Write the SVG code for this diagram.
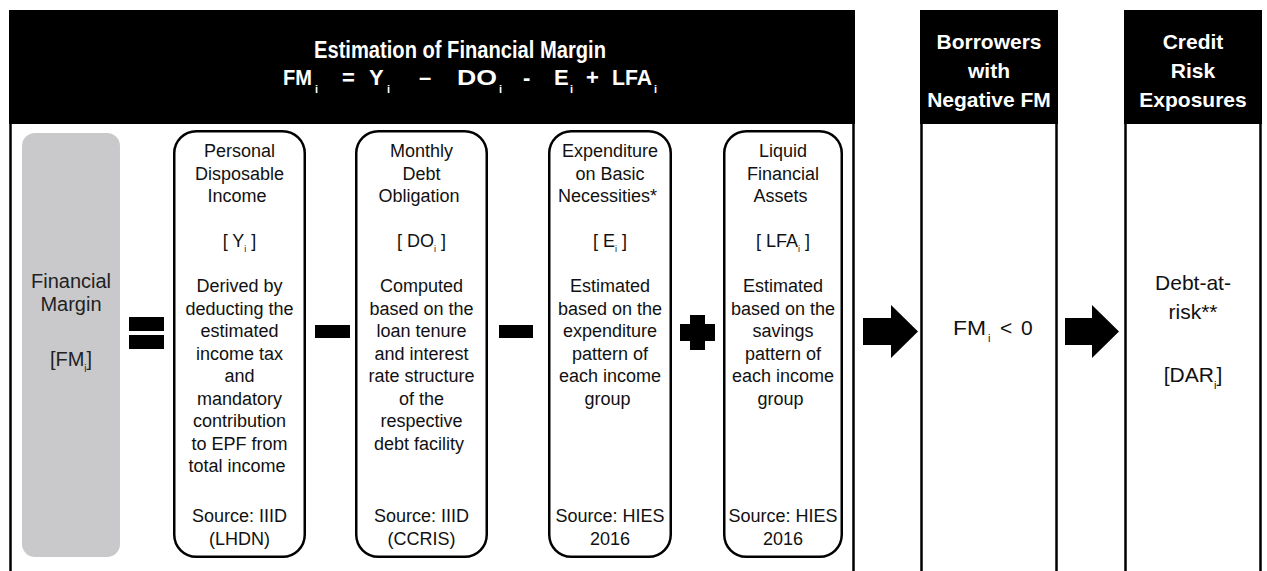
<svg xmlns="http://www.w3.org/2000/svg" width="1267" height="571" viewBox="0 0 1267 571">
<style>
.hdr{fill:#000}
.frame{stroke:#000;stroke-width:2.5;fill:none}
.box{fill:#fff;stroke:#000;stroke-width:2.5}
.gray{fill:#c9c9cb}
.t{font-family:"Liberation Sans",Arial,sans-serif;font-size:18px;fill:#111;text-anchor:middle}
.tg{font-family:"Liberation Sans",Arial,sans-serif;font-size:20px;fill:#222;text-anchor:middle}
.th{font-family:"Liberation Sans",Arial,sans-serif;font-weight:bold;fill:#fff}
.tb{font-family:"Liberation Sans",Arial,sans-serif;font-size:21px;fill:#111}
.op{fill:#000}
</style>
<rect width="1267" height="571" fill="#fff"/>

<g id="frame">
<rect class="hdr" x="9" y="10" width="846" height="114"/>
<line class="frame" x1="10.5" y1="120" x2="10.5" y2="571"/>
<line class="frame" x1="853.5" y1="120" x2="853.5" y2="571"/>
<text class="th" x="460" y="58" font-size="24" text-anchor="middle" textLength="292" lengthAdjust="spacingAndGlyphs">Estimation of Financial Margin</text>
<text class="th" y="85" font-size="22">
<tspan x="283" textLength="29" lengthAdjust="spacingAndGlyphs">FM</tspan><tspan x="315" y="93" font-size="11">i</tspan>
<tspan x="342" y="85">=</tspan>
<tspan x="369">Y</tspan><tspan x="387" y="93" font-size="11">i</tspan>
<tspan x="419" y="85">–</tspan>
<tspan x="457" textLength="40" lengthAdjust="spacingAndGlyphs">DO</tspan><tspan x="499" y="93" font-size="11">i</tspan>
<tspan x="523" y="85">-</tspan>
<tspan x="554">E</tspan><tspan x="570" y="93" font-size="11">i</tspan>
<tspan x="586" y="85">+</tspan>
<tspan x="612" textLength="40" lengthAdjust="spacingAndGlyphs">LFA</tspan><tspan x="654" y="93" font-size="11">i</tspan>
</text>
</g>

<g id="col-borrowers">
<rect class="hdr" x="920" y="10" width="138" height="114"/>
<line class="frame" x1="921.5" y1="120" x2="921.5" y2="571"/>
<line class="frame" x1="1056.5" y1="120" x2="1056.5" y2="571"/>
<text class="th" font-size="21" text-anchor="middle"><tspan x="989" y="49">Borrowers</tspan><tspan x="989" y="78">with</tspan><tspan x="989" y="107">Negative FM</tspan></text>
<text class="tb" y="335"><tspan x="953" textLength="33" lengthAdjust="spacingAndGlyphs">FM</tspan><tspan x="988" y="342" font-size="11">i</tspan><tspan x="1000" y="335">&lt;</tspan><tspan x="1021">0</tspan></text>
</g>

<g id="col-credit">
<rect class="hdr" x="1124" y="10" width="138" height="114"/>
<line class="frame" x1="1125.5" y1="120" x2="1125.5" y2="571"/>
<line class="frame" x1="1260.5" y1="120" x2="1260.5" y2="571"/>
<text class="th" font-size="21" text-anchor="middle"><tspan x="1193" y="49">Credit</tspan><tspan x="1193" y="78">Risk</tspan><tspan x="1193" y="107">Exposures</tspan></text>
<text class="tb" text-anchor="middle" font-size="22"><tspan x="1193" y="290">Debt-at-</tspan><tspan x="1193" y="319">risk**</tspan></text>
<text class="tb" text-anchor="middle" font-size="22" x="1193" y="382">[DAR<tspan font-size="11" dy="7">i</tspan><tspan dy="-7">]</tspan></text>
</g>

<g id="node-fm">
<rect class="gray" x="22" y="133" width="98" height="424" rx="13"/>
<text class="tg"><tspan x="71" y="288">Financial</tspan><tspan x="71" y="311">Margin</tspan></text>
<text class="tg" x="71" y="366">[FM<tspan font-size="10" dy="6">i</tspan><tspan dy="-6">]</tspan></text>
</g>

<g id="node-y">
<rect class="box" x="174.25" y="131.25" width="130.5" height="425.5" rx="22"/>
<text class="t">
<tspan x="239.5" y="157">Personal</tspan><tspan x="239.5" y="179.5">Disposable</tspan><tspan x="239.5" y="202">Income</tspan>
<tspan x="239.5" y="292">Derived by</tspan><tspan x="239.5" y="314.5">deducting the</tspan><tspan x="239.5" y="337">estimated</tspan><tspan x="239.5" y="359.5">income tax</tspan><tspan x="239.5" y="382">and</tspan><tspan x="239.5" y="404.5">mandatory</tspan><tspan x="239.5" y="427">contribution</tspan><tspan x="239.5" y="449.5">to EPF from</tspan><tspan x="239.5" y="472">total income</tspan>
<tspan x="239.5" y="522">Source: IIID</tspan><tspan x="239.5" y="545">(LHDN)</tspan>
</text>
<text class="t" x="239.5" y="247">[ Y<tspan font-size="9" dy="5">i</tspan><tspan dy="-5"> ]</tspan></text>
</g>

<g id="node-do">
<rect class="box" x="356.25" y="131.25" width="130.5" height="425.5" rx="22"/>
<text class="t">
<tspan x="421.5" y="157">Monthly</tspan><tspan x="421.5" y="179.5">Debt</tspan><tspan x="421.5" y="202">Obligation</tspan>
<tspan x="421.5" y="292">Computed</tspan><tspan x="421.5" y="314.5">based on the</tspan><tspan x="421.5" y="337">loan tenure</tspan><tspan x="421.5" y="359.5">and interest</tspan><tspan x="421.5" y="382">rate structure</tspan><tspan x="421.5" y="404.5">of the</tspan><tspan x="421.5" y="427">respective</tspan><tspan x="421.5" y="449.5">debt facility</tspan>
<tspan x="421.5" y="522">Source: IIID</tspan><tspan x="421.5" y="545">(CCRIS)</tspan>
</text>
<text class="t" x="421.5" y="247">[ DO<tspan font-size="9" dy="5">i</tspan><tspan dy="-5"> ]</tspan></text>
</g>

<g id="node-e">
<rect class="box" x="549.25" y="131.25" width="121.5" height="425.5" rx="22"/>
<text class="t">
<tspan x="610" y="157">Expenditure</tspan><tspan x="610" y="179.5">on Basic</tspan><tspan x="610" y="202">Necessities*</tspan>
<tspan x="610" y="292">Estimated</tspan><tspan x="610" y="314.5">based on the</tspan><tspan x="610" y="337">expenditure</tspan><tspan x="610" y="359.5">pattern of</tspan><tspan x="610" y="382">each income</tspan><tspan x="610" y="404.5">group</tspan>
<tspan x="610" y="522">Source: HIES</tspan><tspan x="610" y="545">2016</tspan>
</text>
<text class="t" x="610" y="247">[ E<tspan font-size="9" dy="5">i</tspan><tspan dy="-5"> ]</tspan></text>
</g>

<g id="node-lfa">
<rect class="box" x="724.25" y="131.25" width="117.5" height="425.5" rx="22"/>
<text class="t">
<tspan x="783" y="157">Liquid</tspan><tspan x="783" y="179.5">Financial</tspan><tspan x="783" y="202">Assets</tspan>
<tspan x="783" y="292">Estimated</tspan><tspan x="783" y="314.5">based on the</tspan><tspan x="783" y="337">savings</tspan><tspan x="783" y="359.5">pattern of</tspan><tspan x="783" y="382">each income</tspan><tspan x="783" y="404.5">group</tspan>
<tspan x="783" y="522">Source: HIES</tspan><tspan x="783" y="545">2016</tspan>
</text>
<text class="t" x="783" y="247">[ LFA<tspan font-size="9" dy="5">i</tspan><tspan dy="-5"> ]</tspan></text>
</g>

<g id="operators">
<rect class="op" x="129" y="317" width="35" height="14"/>
<rect class="op" x="129" y="335" width="35" height="14"/>
<rect class="op" x="315" y="325" width="35" height="13"/>
<rect class="op" x="499" y="325" width="34" height="13"/>
<rect class="op" x="690" y="315" width="15" height="35"/>
<rect class="op" x="680" y="324" width="35" height="17"/>
</g>

<g id="connectors">
<polygon class="op" points="863,318 891,318 891,305 918,331.5 891,358 891,345 863,345"/>
<polygon class="op" points="1065,318 1092,318 1092,305 1119,331.5 1092,358 1092,345 1065,345"/>
</g>
</svg>
